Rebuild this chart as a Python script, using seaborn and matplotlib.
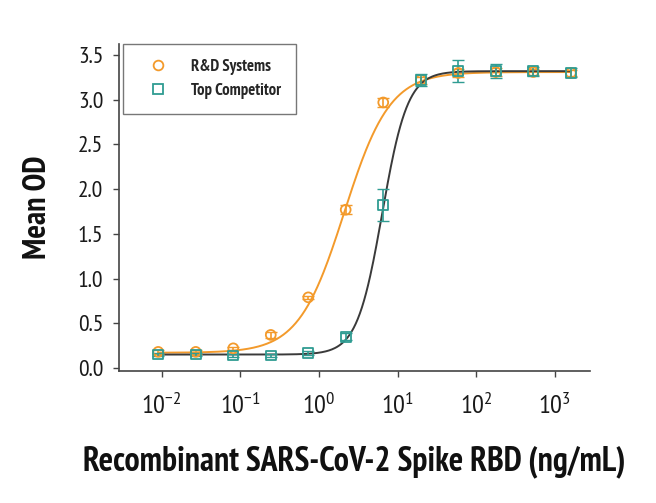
import numpy as np
import pandas as pd
import seaborn as sns
import matplotlib
matplotlib.use('Agg')
import matplotlib.pyplot as plt
from matplotlib import font_manager
from matplotlib.ticker import LogLocator, FixedLocator

# concentrations (ng/mL), 3-fold dilution series
conc = [0.00903, 0.0271, 0.0813, 0.244, 0.732, 2.19, 6.58, 19.75, 59.3, 177.8, 533, 1600]

rnd_od = [0.18, 0.18, 0.22, 0.37, 0.79, 1.77, 2.97, 3.22, 3.30, 3.31, 3.31, 3.30]
rnd_err = [0.02, 0.02, 0.02, 0.03, 0.02, 0.05, 0.05, 0.04, 0.04, 0.04, 0.03, 0.03]

comp_od = [0.15, 0.15, 0.14, 0.14, 0.17, 0.35, 1.82, 3.22, 3.32, 3.32, 3.32, 3.30]
comp_err = [0.02, 0.02, 0.02, 0.02, 0.02, 0.04, 0.18, 0.07, 0.12, 0.08, 0.05, 0.05]

# 4PL fit parameters (bottom, top, EC50, hill)
rnd_fit = [0.17, 3.31, 2.1, 1.5]
comp_fit = [0.15, 3.32, 6.4, 2.7]

series_names = ["R&D Systems", "Top Competitor"]
y_ticks = [0, 0.5, 1, 1.5, 2, 2.5, 3, 3.5]
y_labels = ["0.0", "0.5", "1.0", "1.5", "2.0", "2.5", "3.0", "3.5"]
x_ticks = [1e-2, 1e-1, 1, 1e1, 1e2, 1e3]
x_labels = [r"$\mathregular{10^{-2}}$", r"$\mathregular{10^{-1}}$", r"$\mathregular{10^{0}}$",
            r"$\mathregular{10^{1}}$", r"$\mathregular{10^{2}}$", r"$\mathregular{10^{3}}$"]

orange = "#f39a2b"
teal = "#2f9c92"
curve_dark = "#3a3a3a"

# pick a condensed sans that is installed
available = set(f.name for f in font_manager.fontManager.ttflist)
cond = "DejaVu Sans"
for name in ["PT Sans Narrow", "Fira Sans Condensed", "Roboto Condensed",
             "Open Sans Condensed", "Asap Condensed", "Sofia Sans Condensed"]:
    if name in available:
        cond = name
        break
font = [cond, "DejaVu Sans"]

sns.set_theme(style="ticks")
plt.rcParams['font.family'] = font
plt.rcParams['mathtext.fontset'] = 'custom'
plt.rcParams['mathtext.rm'] = cond
plt.rcParams['mathtext.it'] = cond
plt.rcParams['mathtext.bf'] = cond

fig = plt.figure(figsize=(6.56, 5.03), dpi=100)
ax = fig.add_axes([0.181, 0.2624, 0.718, 0.650])


def four_pl(x, p):
    b, t, c, h = p
    return b + (t - b) / (1 + (c / x) ** h)


xs = np.logspace(np.log10(conc[0]), np.log10(conc[-1]), 400)
fits = pd.DataFrame({
    "x": np.concatenate([xs, xs]),
    "y": np.concatenate([four_pl(xs, rnd_fit), four_pl(xs, comp_fit)]),
    "s": [series_names[0]] * len(xs) + [series_names[1]] * len(xs),
})
sns.lineplot(data=fits, x="x", y="y", hue="s",
             palette={series_names[0]: orange, series_names[1]: curve_dark},
             linewidth=1.4, legend=False, ax=ax)

ax.errorbar(conc, rnd_od, yerr=rnd_err, fmt="none", ecolor=orange,
            elinewidth=1.2, capsize=4, zorder=3)
ax.errorbar(conc, comp_od, yerr=comp_err, fmt="none", ecolor=teal,
            elinewidth=1.2, capsize=4, zorder=4)

pts = pd.DataFrame({
    "x": conc + conc,
    "y": rnd_od + comp_od,
    "s": [series_names[0]] * len(conc) + [series_names[1]] * len(conc),
})
sns.scatterplot(data=pts, x="x", y="y", hue="s", style="s",
                markers={series_names[0]: "o", series_names[1]: "s"},
                palette={series_names[0]: orange, series_names[1]: teal},
                s=50, linewidth=1.3, legend=False, ax=ax, zorder=5)
# open markers
sc = ax.collections[-1]
sc.set_facecolor("none")
sc.set_edgecolor([orange if s == series_names[0] else teal for s in pts["s"]])

ax.set_xscale("log")
ax.set_xlim(0.00284, 2786)
ax.set_ylim(-0.034, 3.623)
ax.set_yticks(y_ticks)
ax.set_yticklabels(y_labels)
ax.xaxis.set_major_locator(FixedLocator(x_ticks))
ax.set_xticklabels(x_labels)
ax.xaxis.set_minor_locator(LogLocator(base=10, subs=np.arange(2, 10)))

for sp in ["top", "right"]:
    ax.spines[sp].set_visible(False)
for sp in ["left", "bottom"]:
    ax.spines[sp].set_color("#444444")
    ax.spines[sp].set_linewidth(1.2)

ax.tick_params(axis="y", direction="out", length=4, width=1, colors="#444444",
               labelsize=17, labelcolor="#1a1a1a", pad=7)
ax.tick_params(axis="x", which="major", direction="out", length=4, width=1,
               colors="#444444", labelsize=19, labelcolor="#1a1a1a", pad=12)
ax.tick_params(axis="x", which="minor", direction="out", length=2.5, width=0.8,
               colors="#444444")

xl = ax.set_xlabel("Recombinant SARS-CoV-2 Spike RBD (ng/mL)", fontsize=22,
                   fontweight="bold", labelpad=19, color="#111111")
ax.set_ylabel("Mean OD", fontsize=23, fontweight="bold", labelpad=18, color="#111111")

# fit x label width to about 541 px
fig.canvas.draw()
w = xl.get_window_extent().width
xl.set_fontsize(22 * 541 / w)

handles = [
    plt.Line2D([], [], marker="o", ls="none", mfc="none", mec=orange, mew=1.3, ms=7),
    plt.Line2D([], [], marker="s", ls="none", mfc="none", mec=teal, mew=1.3, ms=6.5),
]
leg = ax.legend(handles, series_names, loc="upper left", bbox_to_anchor=(0.008, 1.0),
                frameon=True, fancybox=False, edgecolor="#555555",
                prop={"family": font, "weight": "bold", "size": 12},
                borderpad=0.9, labelspacing=0.45, handletextpad=0.8,
                borderaxespad=0.0, handlelength=2.4)
leg.get_frame().set_linewidth(1.0)

fig.savefig("out.png", dpi=100)
